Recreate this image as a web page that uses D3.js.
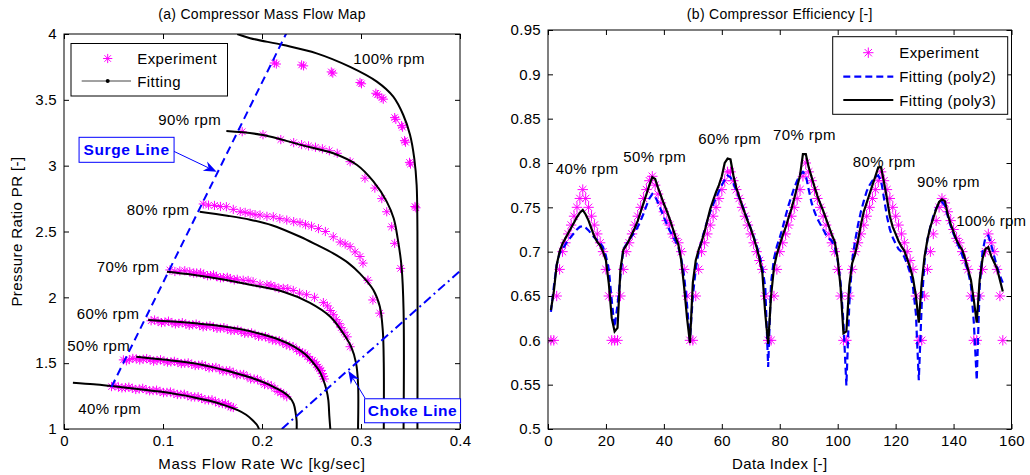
<!DOCTYPE html>
<html>
<head>
<meta charset="utf-8">
<script src="https://cdn.jsdelivr.net/npm/d3@7"></script>
<style>
  body { margin: 0; background: #fff; }
  svg text { font-family: "Liberation Sans", Arial, Helvetica, sans-serif; }
</style>
</head>
<body>
<svg id="fig" width="1030" height="475"></svg>
<script>
// ---------- Panel (a): compressor map, [Wc kg/s, PR] ----------
const speedNames = ["40% rpm", "50% rpm", "60% rpm", "70% rpm", "80% rpm", "90% rpm", "100% rpm"];

const fit40 = [[0.009,1.352],[0.030,1.340],[0.046,1.328],[0.070,1.308],[0.097,1.284],[0.115,1.263],[0.130,1.242],[0.148,1.212],[0.164,1.176],[0.175,1.145],[0.184,1.108],[0.190,1.070],[0.195,1.030],[0.197,1.000]];
const fit50 = [[0.073,1.549],[0.100,1.527],[0.131,1.499],[0.150,1.470],[0.165,1.442],[0.180,1.410],[0.192,1.382],[0.203,1.350],[0.212,1.318],[0.2215,1.280],[0.228,1.240],[0.232,1.190],[0.234,1.120],[0.235,1.060],[0.235,1.000]];
const fit60 = [[0.085,1.828],[0.110,1.816],[0.135,1.801],[0.160,1.781],[0.180,1.755],[0.200,1.720],[0.215,1.685],[0.232,1.627],[0.244,1.565],[0.252,1.500],[0.258,1.440],[0.262,1.372],[0.265,1.300],[0.267,1.220],[0.268,1.100],[0.269,1.000]];
const fit70 = [[0.104,2.195],[0.130,2.172],[0.164,2.132],[0.188,2.096],[0.2215,2.043],[0.248,1.960],[0.269,1.853],[0.282,1.727],[0.290,1.625],[0.295,1.500],[0.297,1.350],[0.297,1.000]];
const fit80 = [[0.137,2.650],[0.165,2.620],[0.188,2.590],[0.210,2.548],[0.238,2.462],[0.255,2.400],[0.272,2.334],[0.287,2.262],[0.299,2.180],[0.3125,2.056],[0.319,1.930],[0.322,1.750],[0.323,1.500],[0.323,1.000]];
const fit90 = [[0.164,3.263],[0.201,3.233],[0.238,3.160],[0.272,3.094],[0.296,3.005],[0.3125,2.880],[0.326,2.727],[0.333,2.600],[0.337,2.450],[0.341,2.230],[0.343,1.900],[0.343,1.000]];
const fit100 = [[0.175,4.000],[0.188,3.968],[0.2216,3.916],[0.2552,3.853],[0.289,3.750],[0.316,3.638],[0.3326,3.524],[0.3427,3.385],[0.3495,3.235],[0.3538,3.056],[0.3562,2.853],[0.357,2.500],[0.357,1.000]];

const exp40 = [[0.048,1.322],[0.055,1.318],[0.062,1.314],[0.069,1.309],[0.076,1.304],[0.083,1.298],[0.090,1.292],[0.097,1.285],[0.104,1.278],[0.111,1.270],[0.118,1.262],[0.125,1.253],[0.132,1.243],[0.139,1.232],[0.146,1.220],[0.153,1.207],[0.160,1.193],[0.166,1.178],[0.171,1.163],
  [0.0515,1.330],[0.0585,1.312],[0.0655,1.318],[0.0725,1.300],[0.0795,1.309],[0.0865,1.290],[0.0935,1.295],[0.1005,1.276],[0.1075,1.281],[0.1145,1.262],[0.1215,1.264],[0.1285,1.244],[0.1355,1.245],[0.1425,1.222],[0.1495,1.222],[0.1565,1.198],[0.163,1.194],[0.1685,1.168]];
const exp50 = [[0.060,1.525],[0.066,1.527],[0.073,1.533],[0.080,1.530],[0.087,1.525],[0.094,1.520],[0.101,1.515],[0.108,1.510],[0.115,1.505],[0.122,1.499],[0.129,1.492],[0.136,1.484],[0.143,1.476],[0.150,1.466],[0.157,1.455],[0.164,1.442],[0.171,1.428],[0.178,1.414],[0.185,1.398],[0.192,1.380],[0.199,1.360],[0.206,1.336],[0.213,1.308],[0.219,1.278],[0.225,1.245],
  [0.063,1.518],[0.0695,1.536],[0.0765,1.524],[0.0835,1.535],[0.0905,1.515],[0.0975,1.526],[0.1045,1.508],[0.1115,1.514],[0.1185,1.497],[0.1255,1.502],[0.1325,1.482],[0.1395,1.488],[0.1465,1.464],[0.1535,1.468],[0.1605,1.440],[0.1675,1.442],[0.1745,1.412],[0.1815,1.414],[0.1885,1.380],[0.1955,1.377],[0.2025,1.338],[0.2095,1.328],[0.216,1.285],[0.222,1.262]];
const exp60 = [[0.088,1.822],[0.095,1.817],[0.102,1.812],[0.109,1.807],[0.116,1.802],[0.123,1.797],[0.130,1.792],[0.137,1.786],[0.144,1.780],[0.151,1.773],[0.158,1.766],[0.165,1.758],[0.172,1.749],[0.179,1.739],[0.186,1.728],[0.193,1.716],[0.200,1.703],[0.207,1.688],[0.214,1.672],[0.221,1.654],[0.228,1.632],[0.235,1.605],[0.241,1.578],[0.246,1.550],[0.251,1.520],[0.255,1.490],[0.258,1.458],[0.261,1.420],[0.263,1.380],
  [0.0915,1.828],[0.0985,1.808],[0.1055,1.819],[0.1125,1.798],[0.1195,1.808],[0.1265,1.788],[0.1335,1.797],[0.1405,1.776],[0.1475,1.785],[0.1545,1.764],[0.1615,1.770],[0.1685,1.748],[0.1755,1.752],[0.1825,1.727],[0.1895,1.730],[0.1965,1.703],[0.2035,1.702],[0.2105,1.676],[0.2175,1.670],[0.2245,1.640],[0.2315,1.625],[0.238,1.588],[0.2435,1.570],[0.2485,1.530],[0.253,1.508],[0.2565,1.470],[0.2595,1.445],[0.262,1.400]];
const exp70 = [[0.107,2.208],[0.117,2.200],[0.127,2.193],[0.134,2.185],[0.141,2.175],[0.148,2.165],[0.154,2.158],[0.161,2.150],[0.168,2.143],[0.175,2.137],[0.181,2.130],[0.191,2.118],[0.205,2.094],[0.213,2.080],[0.2215,2.068],[0.2316,2.052],[0.245,2.020],[0.262,1.960],[0.269,1.900],[0.275,1.830],[0.280,1.770],[0.286,1.700],[0.289,1.625],
  [0.112,2.196],[0.122,2.202],[0.131,2.184],[0.138,2.186],[0.145,2.164],[0.151,2.170],[0.158,2.148],[0.165,2.152],[0.172,2.132],[0.186,2.128],[0.198,2.100],[0.209,2.092],[0.217,2.068],[0.226,2.066],[0.238,2.032],[0.253,2.000],[0.266,1.935],[0.272,1.868],[0.278,1.800],[0.283,1.735]];
const exp80 = [[0.1407,2.709],[0.152,2.698],[0.164,2.688],[0.178,2.650],[0.188,2.638],[0.198,2.625],[0.2114,2.612],[0.225,2.587],[0.2384,2.567],[0.250,2.540],[0.257,2.522],[0.264,2.500],[0.279,2.420],[0.289,2.385],[0.299,2.310],[0.302,2.260],[0.307,2.130],[0.312,1.980],[0.319,1.880],
  [0.146,2.700],[0.158,2.690],[0.171,2.668],[0.183,2.645],[0.193,2.628],[0.205,2.615],[0.218,2.598],[0.232,2.575],[0.244,2.552],[0.272,2.460],[0.284,2.405],[0.294,2.345]];
const exp90 = [[0.180,3.258],[0.201,3.235],[0.219,3.198],[0.232,3.175],[0.240,3.160],[0.247,3.150],[0.254,3.140],[0.261,3.128],[0.268,3.113],[0.276,3.094],[0.289,3.030],[0.304,2.905],[0.314,2.830],[0.321,2.750],[0.326,2.650],[0.331,2.536],[0.334,2.410],[0.340,2.220]];
const exp100 = [[0.2125,3.780],[0.2145,3.772],[0.2400,3.765],[0.2420,3.758],[0.2700,3.712],[0.2715,3.703],[0.2990,3.632],[0.3005,3.622],[0.3150,3.550],[0.3165,3.540],[0.3210,3.516],[0.3225,3.505],[0.3340,3.365],[0.3352,3.352],[0.3410,3.304],[0.3420,3.292],[0.3440,3.190],[0.3450,3.178],[0.3490,3.025],[0.3500,3.012],[0.3545,2.690],[0.3555,2.680]];

const surgeLine = [[0.048,1.320],[0.2262,4.030]];
const chokeLine = [[0.220,1.000],[0.400,2.200]];

const mapXTicks = [0, 0.1, 0.2, 0.3, 0.4];
const mapYTicks = [1, 1.5, 2, 2.5, 3, 3.5, 4];

// ---------- Panel (b): efficiency per data index ----------
const effExp = [
  0.60,0.60,0.65,0.68,0.70,0.71,0.72,0.73,0.74,0.75,0.76,0.77,0.76,0.75,0.74,0.73,0.72,0.71,0.70,0.68,0.65,0.60,0.60,
  0.60,0.65,0.68,0.70,0.71,0.72,0.73,0.74,0.75,0.76,0.77,0.78,0.785,0.775,0.765,0.755,0.745,0.735,0.73,0.72,0.715,0.71,0.70,0.68,0.65,0.60,
  0.60,0.65,0.68,0.70,0.71,0.72,0.73,0.74,0.75,0.76,0.77,0.78,0.79,0.79,0.78,0.77,0.76,0.75,0.74,0.73,0.72,0.71,0.70,0.69,0.68,0.65,0.60,
  0.60,0.65,0.68,0.70,0.71,0.72,0.73,0.74,0.75,0.76,0.77,0.785,0.80,0.79,0.78,0.77,0.76,0.75,0.74,0.73,0.72,0.71,0.70,0.68,0.65,0.60,
  0.60,0.65,0.68,0.70,0.71,0.72,0.73,0.74,0.75,0.76,0.77,0.78,0.79,0.78,0.77,0.76,0.75,0.74,0.73,0.72,0.71,0.70,0.69,0.68,0.65,0.60,
  0.60,0.65,0.68,0.70,0.72,0.735,0.75,0.76,0.755,0.745,0.735,0.725,0.715,0.71,0.70,0.69,0.68,0.65,0.60,0.60,
  0.65,0.68,0.70,0.72,0.71,0.70,0.68,0.65,0.60
];
const effPoly2 = [
  0.632,0.660,0.685,0.698,0.703,0.708,0.713,0.717,0.721,0.725,0.728,0.729,0.727,0.724,0.720,0.716,0.713,0.710,0.705,0.695,0.680,0.645,0.615,
  0.640,0.672,0.703,0.708,0.713,0.718,0.722,0.728,0.735,0.743,0.752,0.760,0.765,0.762,0.755,0.747,0.739,0.731,0.724,0.718,0.712,0.705,0.692,0.672,0.640,0.600,
  0.650,0.680,0.700,0.712,0.724,0.735,0.745,0.753,0.761,0.768,0.775,0.781,0.786,0.784,0.777,0.769,0.761,0.753,0.744,0.735,0.726,0.717,0.707,0.696,0.682,0.660,0.570,
  0.665,0.692,0.706,0.716,0.727,0.740,0.752,0.762,0.772,0.780,0.787,0.790,0.786,0.770,0.755,0.745,0.737,0.731,0.725,0.719,0.715,0.712,0.705,0.690,0.665,0.620,
  0.549,0.640,0.690,0.712,0.730,0.745,0.757,0.768,0.775,0.780,0.784,0.786,0.780,0.760,0.740,0.725,0.716,0.709,0.703,0.700,0.694,0.686,0.676,0.660,0.630,0.555,
  0.640,0.690,0.714,0.728,0.740,0.749,0.754,0.756,0.752,0.740,0.729,0.720,0.712,0.704,0.696,0.688,0.678,0.662,0.620,0.555,
  0.660,0.700,0.716,0.718,0.708,0.695,0.683,0.673,0.665
];
const effPoly3 = [
  0.634,0.655,0.685,0.700,0.709,0.715,0.721,0.727,0.733,0.739,0.744,0.747,0.742,0.735,0.726,0.717,0.711,0.707,0.700,0.690,0.664,0.625,0.610,
  0.614,0.680,0.702,0.707,0.713,0.720,0.727,0.735,0.745,0.755,0.765,0.775,0.784,0.782,0.772,0.763,0.754,0.746,0.737,0.727,0.717,0.708,0.690,0.660,0.625,0.597,
  0.665,0.690,0.702,0.711,0.722,0.735,0.748,0.758,0.767,0.775,0.785,0.800,0.805,0.804,0.786,0.772,0.762,0.752,0.743,0.734,0.726,0.716,0.705,0.692,0.676,0.630,0.596,
  0.650,0.682,0.697,0.708,0.718,0.727,0.738,0.748,0.760,0.773,0.786,0.810,0.810,0.795,0.784,0.773,0.763,0.754,0.746,0.737,0.728,0.719,0.711,0.692,0.660,0.608,
  0.610,0.662,0.687,0.697,0.712,0.730,0.745,0.755,0.765,0.775,0.785,0.795,0.795,0.778,0.760,0.740,0.728,0.720,0.712,0.706,0.701,0.692,0.682,0.670,0.650,0.620,
  0.665,0.695,0.714,0.728,0.738,0.748,0.756,0.759,0.757,0.742,0.731,0.722,0.713,0.707,0.702,0.692,0.680,0.668,0.645,0.620,
  0.668,0.692,0.703,0.705,0.695,0.688,0.681,0.668,0.655
];
const effXTicks = [0, 20, 40, 60, 80, 100, 120, 140, 160];
const effYTicks = [0.5, 0.55, 0.6, 0.65, 0.7, 0.75, 0.8, 0.85, 0.9, 0.95];

// Speed-label anchors (left text edge, baseline) in each panel's data units
const mapLabelAt = [[0.0144,1.114],[0.0033,1.595],[0.0128,1.835],[0.0330,2.189],[0.0633,2.628],[0.0953,3.309],[0.2922,3.774]];
const effLabelAt = [[2.66,0.788],[26.0,0.8015],[51.9,0.8214],[77.7,0.8265],[105.2,0.7958],[127.4,0.7725],[140.9,0.729]];

// ---------- common drawing helpers ----------
const MAGENTA = "#ff00ff", BLUE = "#0000ff";
const FONT = 15;
const svg = d3.select("#fig");

function starPath(r) {
  const d = r * 0.7071;
  return `M${-r},0L${r},0M0,${-r}L0,${r}M${-d},${-d}L${d},${d}M${-d},${d}L${d},${-d}`;
}

function frame(g, box, x, y, xt, yt) {
  const tick = 5;
  const style = s => s.attr("font-size", FONT).attr("font-family", null)
    .call(q => q.select(".domain").remove())
    .call(q => q.selectAll("line").attr("stroke", "#000"))
    .call(q => q.selectAll("text").attr("fill", "#000").style("letter-spacing", "0.3px"));
  g.append("g").attr("transform", `translate(0,${box.bottom})`)
    .call(d3.axisBottom(x).tickValues(xt).tickFormat(String).tickSize(-tick).tickSizeOuter(0).tickPadding(6)).call(style);
  g.append("g").attr("transform", `translate(0,${box.top})`)
    .call(d3.axisTop(x).tickValues(xt).tickFormat("").tickSize(-tick).tickSizeOuter(0)).call(style);
  g.append("g").attr("transform", `translate(${box.left},0)`)
    .call(d3.axisLeft(y).tickValues(yt).tickFormat(String).tickSize(-tick).tickSizeOuter(0).tickPadding(7)).call(style);
  g.append("g").attr("transform", `translate(${box.right},0)`)
    .call(d3.axisRight(y).tickValues(yt).tickFormat("").tickSize(-tick).tickSizeOuter(0)).call(style);
  g.append("rect").attr("x", box.left).attr("y", box.top)
    .attr("width", box.right - box.left).attr("height", box.bottom - box.top)
    .attr("fill", "none").attr("stroke", "#000").attr("stroke-width", 1);
}

function text(g, str, x, y, opts = {}) {
  return g.append("text").attr("x", x).attr("y", y)
    .attr("font-size", opts.size || FONT)
    .attr("font-weight", opts.weight || null)
    .attr("text-anchor", opts.anchor || "start")
    .attr("fill", opts.fill || "#000")
    .style("letter-spacing", (opts.ls == null ? 0.4 : opts.ls) + "px")
    .text(str);
}

// ================= Panel (a) =================
const boxA = { left: 64, right: 460, top: 34, bottom: 429 };
const xA = d3.scaleLinear().domain([0, 0.4]).range([boxA.left, boxA.right]);
const yA = d3.scaleLinear().domain([1, 4]).range([boxA.bottom, boxA.top]);
const gA = svg.append("g");

svg.append("defs").append("clipPath").attr("id", "clipA")
  .append("rect").attr("x", boxA.left).attr("y", boxA.top)
  .attr("width", boxA.right - boxA.left).attr("height", boxA.bottom - boxA.top);

const plotA = gA.append("g").attr("clip-path", "url(#clipA)");

// measured points
const expSets = [exp40, exp50, exp60, exp70, exp80, exp90, exp100];
expSets.forEach(set => {
  plotA.append("g").selectAll("path").data(set).join("path")
    .attr("transform", d => `translate(${xA(d[0])},${yA(d[1])})`)
    .attr("d", starPath(4.6))
    .attr("stroke", MAGENTA).attr("stroke-width", 1).attr("fill", "none");
});

// fitted speed lines
const mapLine = d3.line().x(d => xA(d[0])).y(d => yA(d[1])).curve(d3.curveCatmullRom.alpha(0.5));
[fit40, fit50, fit60, fit70, fit80, fit90, fit100].forEach(f => {
  plotA.append("path").datum(f).attr("d", mapLine)
    .attr("fill", "none").attr("stroke", "#000").attr("stroke-width", 2);
});

// surge and choke limits
const straight = d3.line().x(d => xA(d[0])).y(d => yA(d[1]));
plotA.append("path").datum(surgeLine).attr("d", straight)
  .attr("fill", "none").attr("stroke", BLUE).attr("stroke-width", 2).attr("stroke-dasharray", "8,5");
plotA.append("path").datum(chokeLine).attr("d", straight)
  .attr("fill", "none").attr("stroke", BLUE).attr("stroke-width", 2).attr("stroke-dasharray", "9,4,2,4");

frame(gA, boxA, xA, yA, mapXTicks, mapYTicks);

// speed labels
speedNames.forEach((s, i) => text(gA, s, xA(mapLabelAt[i][0]), yA(mapLabelAt[i][1])));

// annotation arrows + boxed labels
function arrow(g, from, to) {
  const [x1, y1] = from, [x2, y2] = to;
  const ang = Math.atan2(y2 - y1, x2 - x1);
  const L = 13, Wd = 5, back = 9;
  g.append("line").attr("x1", x1).attr("y1", y1)
    .attr("x2", x2 - Math.cos(ang) * back).attr("y2", y2 - Math.sin(ang) * back)
    .attr("stroke", BLUE).attr("stroke-width", 1);
  const p = (dx, dy) => [x2 + dx * Math.cos(ang) - dy * Math.sin(ang), y2 + dx * Math.sin(ang) + dy * Math.cos(ang)];
  const pts = [p(0, 0), p(-L, -Wd), p(-back, 0), p(-L, Wd)];
  g.append("path").attr("d", "M" + pts.map(q => q.join(",")).join("L") + "Z").attr("fill", BLUE);
}
function boxLabel(g, str, cx, cy, w, h) {
  g.append("rect").attr("x", cx - w / 2).attr("y", cy - h / 2).attr("width", w).attr("height", h)
    .attr("fill", "#fff").attr("stroke", BLUE).attr("stroke-width", 1);
  text(g, str, cx, cy + 5.5, { size: 15.5, weight: "bold", anchor: "middle", fill: BLUE, ls: 0.6 });
}
arrow(gA, [xA(0.1104), yA(3.111)], [xA(0.1542), yA(2.954)]);
boxLabel(gA, "Surge Line", xA(0.0632), yA(3.1205), 95, 25);
arrow(gA, [xA(0.304), yA(1.2354)], [xA(0.2872), yA(1.443)]);
boxLabel(gA, "Choke Line", xA(0.3521), yA(1.1385), 96, 24);

// legend (a)
const legA = gA.append("g");
legA.append("rect").attr("x", 71).attr("y", 43.5).attr("width", 156.5).attr("height", 52.5)
  .attr("fill", "#fff").attr("stroke", "#000").attr("stroke-width", 1);
legA.append("path").attr("transform", "translate(107.7,58.5)").attr("d", starPath(4.6))
  .attr("stroke", MAGENTA).attr("fill", "none");
text(legA, "Experiment", 137.3, 64);
legA.append("line").attr("x1", 81.7).attr("x2", 131).attr("y1", 81).attr("y2", 81)
  .attr("stroke", "#444").attr("stroke-width", 1);
legA.append("circle").attr("cx", 107.7).attr("cy", 81).attr("r", 2).attr("fill", "#000");
text(legA, "Fitting", 137.3, 86.5);

// titles (a)
text(gA, "(a) Compressor Mass Flow Map", (boxA.left + boxA.right) / 2, 19, { size: 14, anchor: "middle", ls: 0.3 });
text(gA, "Mass Flow Rate Wc [kg/sec]", (boxA.left + boxA.right) / 2, 469, { anchor: "middle", ls: 0.7 });
text(gA, "Pressure Ratio PR [-]", 0, 0, { anchor: "middle" })
  .attr("transform", `translate(22,${(boxA.top + boxA.bottom) / 2}) rotate(-90)`).attr("x", null).attr("y", null);

// ================= Panel (b) =================
const boxB = { left: 548, right: 1011.5, top: 30, bottom: 429 };
const xB = d3.scaleLinear().domain([0, 160]).range([boxB.left, boxB.right]);
const yB = d3.scaleLinear().domain([0.5, 0.95]).range([boxB.bottom, boxB.top]);
const gB = svg.append("g");

svg.select("defs").append("clipPath").attr("id", "clipB")
  .append("rect").attr("x", boxB.left).attr("y", boxB.top)
  .attr("width", boxB.right - boxB.left).attr("height", boxB.bottom - boxB.top);
const plotB = gB.append("g").attr("clip-path", "url(#clipB)");

const rows = effExp.map((v, i) => ({ i: i + 1, exp: v, p2: effPoly2[i], p3: effPoly3[i] }));

plotB.append("g").selectAll("path").data(rows).join("path")
  .attr("transform", d => `translate(${xB(d.i)},${yB(d.exp)})`)
  .attr("d", starPath(5.2))
  .attr("stroke", MAGENTA).attr("stroke-width", 1).attr("fill", "none");

plotB.append("path").datum(rows)
  .attr("d", d3.line().x(d => xB(d.i)).y(d => yB(d.p2)))
  .attr("fill", "none").attr("stroke", BLUE).attr("stroke-width", 2.2).attr("stroke-dasharray", "7,4");
plotB.append("path").datum(rows)
  .attr("d", d3.line().x(d => xB(d.i)).y(d => yB(d.p3)))
  .attr("fill", "none").attr("stroke", "#000").attr("stroke-width", 2.2);

frame(gB, boxB, xB, yB, effXTicks, effYTicks);

speedNames.forEach((s, i) => text(gB, s, xB(effLabelAt[i][0]), yB(effLabelAt[i][1]), i === 6 ? { ls: 0.2 } : {}));

// legend (b)
const legB = gB.append("g");
legB.append("rect").attr("x", 832.7).attr("y", 36.7).attr("width", 175).attr("height", 77.6)
  .attr("fill", "#fff").attr("stroke", "#000").attr("stroke-width", 1);
legB.append("path").attr("transform", "translate(868.3,52.7)").attr("d", starPath(5.2))
  .attr("stroke", MAGENTA).attr("fill", "none");
text(legB, "Experiment", 899.3, 58);
legB.append("line").attr("x1", 843.3).attr("x2", 893.3).attr("y1", 76.7).attr("y2", 76.7)
  .attr("stroke", BLUE).attr("stroke-width", 2.2).attr("stroke-dasharray", "7,4");
text(legB, "Fitting (poly2)", 899.3, 82);
legB.append("line").attr("x1", 843.3).attr("x2", 893.3).attr("y1", 100).attr("y2", 100)
  .attr("stroke", "#000").attr("stroke-width", 2.2);
text(legB, "Fitting (poly3)", 899.3, 105.5);

text(gB, "(b) Compressor Efficiency [-]", (boxB.left + boxB.right) / 2, 19, { size: 14, anchor: "middle", ls: 0.3 });
text(gB, "Data Index [-]", (boxB.left + boxB.right) / 2, 469, { anchor: "middle" });
</script>
</body>
</html>
